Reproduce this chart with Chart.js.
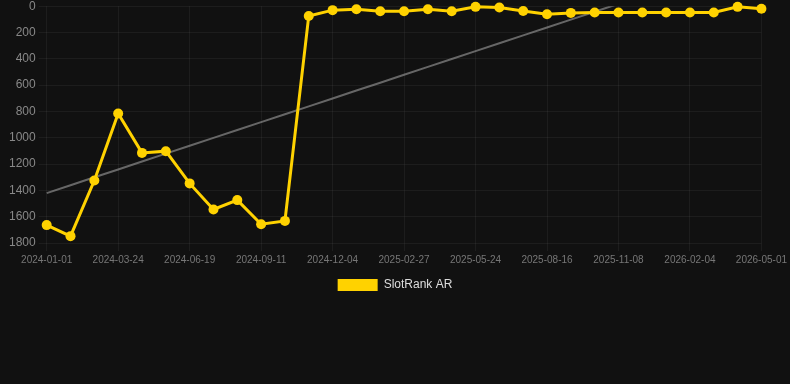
<!DOCTYPE html>
<html lang="en">
<head>
    <meta charset="UTF-8">
    <title>SlotRank AR</title>
    <script src="https://cdn.jsdelivr.net/npm/chart.js"></script>
    <style>
        html, body { margin: 0; padding: 0; background: #111111; overflow: hidden; }
        .chart-container { width: 790px; height: 305px; position: relative; margin-top: -4px; }
    </style>
</head>
<body>
    <div class="chart-container">
        <canvas id="rankChart"></canvas>
    </div>

    <script>
        var dates = [
            '2024-01-01', '2024-01-29', '2024-02-26', '2024-03-24', '2024-04-22', '2024-05-21',
            '2024-06-19', '2024-07-17', '2024-08-14', '2024-09-11', '2024-10-09', '2024-11-06',
            '2024-12-04', '2025-01-01', '2025-01-29', '2025-02-27', '2025-03-27', '2025-04-25',
            '2025-05-24', '2025-06-21', '2025-07-19', '2025-08-16', '2025-09-13', '2025-10-11',
            '2025-11-08', '2025-12-07', '2026-01-06', '2026-02-04', '2026-03-04', '2026-04-02',
            '2026-05-01'
        ];
        var ranks = [
            1664, 1748, 1325, 816, 1115, 1102, 1347, 1545, 1474, 1657, 1632, 74,
            30, 23, 38, 38, 23, 38, 5, 10, 36, 61, 51, 48,
            48, 48, 48, 48, 48, 5, 20
        ];

        // least squares trend over the rank series
        var n = ranks.length, sx = 0, sy = 0, sxy = 0, sxx = 0;
        ranks.forEach(function(v, i) { sx += i; sy += v; sxy += i * v; sxx += i * i; });
        var slope = (n * sxy - sx * sy) / (n * sxx - sx * sx);
        var intercept = (sy - slope * sx) / n;
        var trend = ranks.map(function(v, i) { return intercept + slope * i; });

        var ctx = document.getElementById('rankChart').getContext('2d');
        new Chart(ctx, {
            type: 'line',
            data: {
                labels: dates,
                datasets: [{
                    label: 'SlotRank AR',
                    data: ranks,
                    borderColor: '#ffd200',
                    backgroundColor: '#ffd200',
                    borderWidth: 3,
                    pointRadius: 5,
                    pointBackgroundColor: '#ffd200',
                    pointBorderWidth: 0,
                    tension: 0,
                    clip: false
                }, {
                    label: 'trend',
                    data: trend,
                    borderColor: 'rgba(160, 160, 160, 0.6)',
                    borderWidth: 2,
                    pointRadius: 0,
                    fill: false
                }]
            },
            options: {
                responsive: true,
                maintainAspectRatio: false,
                animation: false,
                plugins: {
                    legend: {
                        position: 'bottom',
                        labels: {
                            color: '#dddddd',
                            font: { family: 'Liberation Sans, Arial', size: 12 },
                            boxWidth: 40,
                            boxHeight: 12,
                            filter: function(item) { return item.text !== 'trend'; },
                            generateLabels: function(chart) {
                                var items = Chart.defaults.plugins.legend.labels.generateLabels(chart);
                                items.forEach(function(it) { it.lineWidth = 0; });
                                return items;
                            }
                        }
                    },
                    tooltip: { enabled: false }
                },
                scales: {
                    x: {
                        grid: { color: 'rgba(255, 255, 255, 0.05)' },
                        border: { display: false },
                        ticks: {
                            color: '#777777',
                            maxRotation: 0,
                            autoSkip: true,
                            font: { family: 'Liberation Sans, Arial', size: 10 }
                        }
                    },
                    y: {
                        reverse: true,
                        min: 0,
                        max: 1800,
                        grid: { color: 'rgba(255, 255, 255, 0.05)' },
                        border: { display: false },
                        afterFit: function(scale) { scale.width += 6; },
                        ticks: {
                            stepSize: 200,
                            color: '#888888',
                            font: { family: 'Liberation Sans, Arial', size: 12 },
                            callback: function(value) { return String(value); }
                        }
                    }
                }
            }
        });
    </script>
</body>
</html>
